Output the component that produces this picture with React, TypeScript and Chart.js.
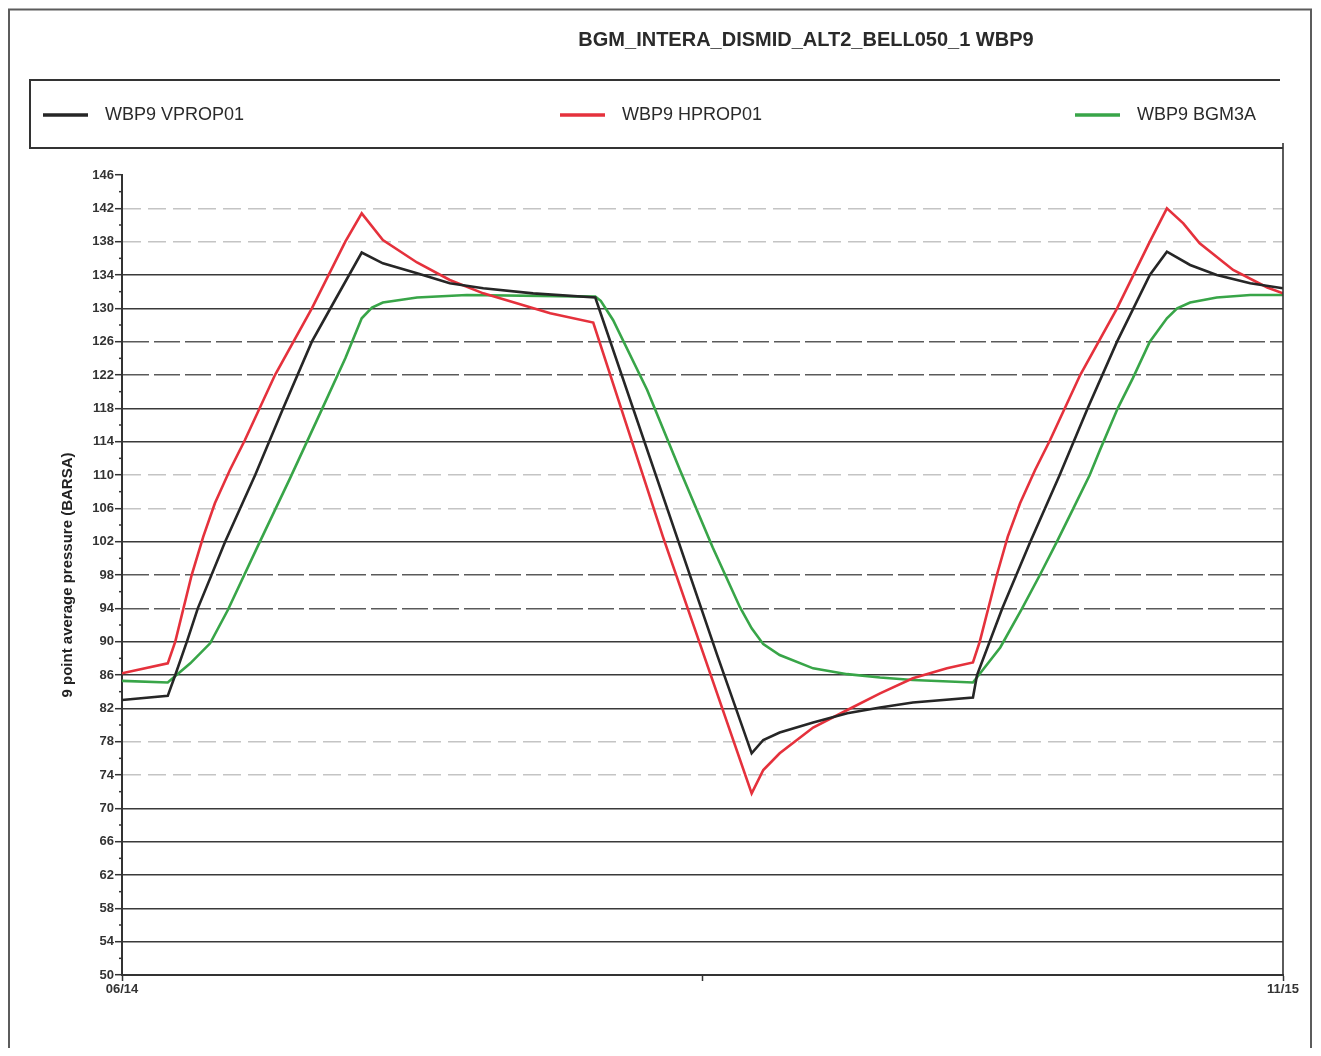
import React, { useEffect, useRef } from 'react';
import { Chart, registerables } from 'chart.js';

Chart.register(...registerables);

// ---- Text ----
const chartTitle = 'BGM_INTERA_DISMID_ALT2_BELL050_1 WBP9';
const yAxisTitle = '9 point average pressure (BARSA)';
const seriesNames = ['WBP9 VPROP01', 'WBP9 HPROP01', 'WBP9 BGM3A'];
const seriesColors = ['#262626', '#e5313c', '#38a548'];

// ---- Axes (x in months since 06/14) ----
const xMin = 0;
const xMax = 17;
const xTickValues = [0, 8.5, 17];
const xTickLabels: Record<string, string> = { '0': '06/14', '17': '11/15' };
const yMin = 50;
const yMax = 146;
const yLabelStep = 4;
const yMinorStep = 2;

// ---- Series: WBP9 VPROP01 ----
const vpropMonths = [0, 0.67, 0.78, 0.95, 1.11, 1.51, 1.95, 2.36, 2.78, 3.12, 3.51, 3.82, 4.32, 4.80, 5.29, 6.02, 6.93, 8.71, 9.22, 9.39, 9.63, 10.12, 10.62, 11.10, 11.58, 12.46, 12.52, 12.89, 13.30, 13.73, 14.14, 14.57, 15.05, 15.30, 15.64, 16.03, 16.52, 17];
const vpropValues = [83.0, 83.5, 86.0, 90.0, 94.0, 102.0, 110.0, 118.0, 126.0, 131.0, 136.7, 135.4, 134.2, 133.0, 132.4, 131.8, 131.3, 88.5, 76.6, 78.2, 79.1, 80.3, 81.4, 82.1, 82.7, 83.3, 86.0, 94.0, 102.0, 110.0, 118.0, 126.0, 134.0, 136.8, 135.2, 134.0, 133.0, 132.4];

// ---- Series: WBP9 HPROP01 ----
const hpropMonths = [0, 0.67, 0.78, 1.02, 1.19, 1.36, 1.58, 1.80, 2.24, 2.78, 3.27, 3.51, 3.82, 4.32, 4.80, 5.29, 5.78, 6.27, 6.90, 7.92, 9.22, 9.39, 9.63, 10.12, 10.62, 11.10, 11.58, 12.08, 12.46, 12.56, 12.81, 12.97, 13.15, 13.37, 13.59, 14.03, 14.57, 15.05, 15.30, 15.54, 15.78, 16.27, 16.77, 17];
const hpropValues = [86.2, 87.4, 90.0, 98.0, 102.6, 106.6, 110.6, 114.2, 122.0, 130.0, 138.0, 141.4, 138.2, 135.5, 133.4, 131.8, 130.6, 129.4, 128.3, 102.6, 71.8, 74.6, 76.6, 79.7, 81.8, 83.8, 85.6, 86.8, 87.5, 90.0, 98.0, 102.6, 106.6, 110.6, 114.2, 122.0, 130.0, 138.0, 142.0, 140.2, 137.8, 134.6, 132.5, 131.8];

// ---- Series: WBP9 BGM3A ----
const bgmMonths = [0, 0.67, 1.00, 1.29, 1.55, 1.99, 2.46, 2.90, 3.27, 3.51, 3.66, 3.82, 4.32, 5.05, 6.93, 7.01, 7.19, 7.69, 8.17, 8.65, 9.05, 9.22, 9.39, 9.63, 10.12, 10.62, 11.10, 11.58, 12.46, 12.86, 13.18, 13.44, 13.69, 13.93, 14.17, 14.32, 14.58, 14.80, 15.05, 15.30, 15.45, 15.64, 16.03, 16.52, 17];
const bgmValues = [85.3, 85.1, 87.4, 89.8, 93.8, 101.5, 109.6, 117.4, 124.0, 128.8, 130.1, 130.7, 131.3, 131.6, 131.4, 130.9, 128.6, 120.2, 110.6, 101.3, 94.1, 91.6, 89.7, 88.4, 86.8, 86.1, 85.7, 85.4, 85.1, 89.3, 94.0, 98.0, 102.0, 106.0, 110.0, 113.0, 118.0, 121.6, 126.0, 128.8, 130.0, 130.7, 131.3, 131.6, 131.6];

// Grid lines at these levels print faint / broken on the plotted sheet
const faintLevels = [74, 78, 106, 110, 138, 142];
const brokenLevels = [94, 98, 122, 126];

const FONT = '"Liberation Sans", Arial, Helvetica, sans-serif';

const isLabelled = (v: number) => (v - yMin) % yLabelStep === 0;

function gridColor(v: number | undefined): string {
  if (v === undefined || !isLabelled(v) || v === yMax) return 'rgba(0,0,0,0)';
  if (faintLevels.includes(v)) return '#c4c4c4';
  if (brokenLevels.includes(v)) return '#5a5a5a';
  return '#3a3a3a';
}

function gridDash(v: number | undefined): number[] {
  if (v === undefined) return [];
  if (faintLevels.includes(v)) return [18, 7];
  if (brokenLevels.includes(v)) return [26, 5];
  return [];
}

// Sheet furniture: outer frame, legend box, title, legend entries, minor ticks
const sheetPlugin = {
  id: 'sheet',
  afterDraw(chart: any) {
    const { ctx, chartArea, width, height } = chart;
    const yScale = chart.scales.y;
    ctx.save();

    // outer frame
    ctx.strokeStyle = '#5c5c5c';
    ctx.lineWidth = 2;
    ctx.beginPath();
    ctx.moveTo(1, height);
    ctx.lineTo(1, 1.5);
    ctx.lineTo(width - 2, 1.5);
    ctx.lineTo(width - 2, height);
    ctx.stroke();

    // legend box (open on the right)
    ctx.strokeStyle = '#333';
    ctx.lineWidth = 2;
    ctx.beginPath();
    ctx.moveTo(chartArea.right - 3, 72);
    ctx.lineTo(22, 72);
    ctx.lineTo(22, 140);
    ctx.lineTo(chartArea.right, 140);
    ctx.stroke();

    // right edge of the plot
    ctx.lineWidth = 1.6;
    ctx.beginPath();
    ctx.moveTo(chartArea.right, 135);
    ctx.lineTo(chartArea.right, chartArea.bottom);
    ctx.stroke();

    // minor ticks on the value axis
    ctx.strokeStyle = '#333';
    ctx.lineWidth = 1.5;
    for (let v = yMin + yMinorStep; v < yMax; v += yLabelStep) {
      const y = yScale.getPixelForValue(v);
      ctx.beginPath();
      ctx.moveTo(chartArea.left - 3, y);
      ctx.lineTo(chartArea.left, y);
      ctx.stroke();
    }

    // title
    ctx.fillStyle = '#2a2a2a';
    ctx.textBaseline = 'middle';
    ctx.textAlign = 'center';
    ctx.font = `bold 20px ${FONT}`;
    ctx.fillText(chartTitle, 798, 32);

    // legend entries
    const sampleX = [35, 552, 1067];
    ctx.textAlign = 'left';
    ctx.font = `18px ${FONT}`;
    chart.data.datasets.forEach((ds: any, i: number) => {
      const x = sampleX[i];
      ctx.strokeStyle = ds.borderColor;
      ctx.lineWidth = 3.5;
      ctx.beginPath();
      ctx.moveTo(x, 107);
      ctx.lineTo(x + 45, 107);
      ctx.stroke();
      ctx.fillStyle = '#2a2a2a';
      ctx.fillText(ds.label, x + 62, 107.5);
    });

    ctx.restore();
  },
};

function toPoints(xs: number[], ys: number[]) {
  return xs.map((x, i) => ({ x, y: ys[i] }));
}

export default function App() {
  const canvasRef = useRef<HTMLCanvasElement | null>(null);

  useEffect(() => {
    const canvas = canvasRef.current;
    if (!canvas) return;

    const seriesData = [
      toPoints(vpropMonths, vpropValues),
      toPoints(hpropMonths, hpropValues),
      toPoints(bgmMonths, bgmValues),
    ];

    const chart = new Chart(canvas, {
      type: 'line',
      data: {
        datasets: seriesData.map((data, i) => ({
          label: seriesNames[i],
          data,
          borderColor: seriesColors[i],
          backgroundColor: seriesColors[i],
          borderWidth: 2.6,
          pointRadius: 0,
          tension: 0,
          fill: false,
        })),
      },
      options: {
        animation: false,
        responsive: false,
        devicePixelRatio: 1,
        events: [],
        layout: { padding: { top: 167, right: 30, left: 0, bottom: 0 } },
        plugins: {
          legend: { display: false },
          title: { display: false },
          tooltip: { enabled: false },
        },
        scales: {
          x: {
            type: 'linear',
            min: xMin,
            max: xMax,
            afterBuildTicks: (s: any) => {
              s.ticks = xTickValues.map((value) => ({ value }));
            },
            afterFit: (s: any) => {
              s.height = 73;
            },
            grid: {
              drawOnChartArea: false,
              drawTicks: true,
              tickLength: 6,
              tickColor: '#333',
              tickWidth: 1.5,
            },
            border: { color: '#333', width: 2 },
            ticks: {
              autoSkip: false,
              maxRotation: 0,
              padding: 1,
              color: '#333',
              font: { family: FONT, size: 13, weight: 'bold' },
              callback: (v: any) => xTickLabels[String(v)] ?? '',
            },
          },
          y: {
            type: 'linear',
            min: yMin,
            max: yMax,
            afterBuildTicks: (s: any) => {
              const t: { value: number }[] = [];
              for (let v = yMin; v <= yMax; v += yMinorStep) t.push({ value: v });
              s.ticks = t;
            },
            afterFit: (s: any) => {
              s.width = 114;
            },
            grid: {
              drawOnChartArea: true,
              drawTicks: true,
              tickLength: 7,
              color: (c: any) => gridColor(c.tick?.value),
              lineWidth: 1.4,
              tickColor: (c: any) =>
                c.tick && isLabelled(c.tick.value) ? '#333' : 'rgba(0,0,0,0)',
              tickWidth: 1.5,
            },
            border: {
              color: '#333',
              width: 2,
              dash: (c: any) => gridDash(c.tick?.value),
            },
            ticks: {
              autoSkip: false,
              padding: 1,
              color: '#333',
              font: { family: FONT, size: 13, weight: 'bold' },
              callback: (v: any) => (isLabelled(Number(v)) ? String(v) : ''),
            },
            title: {
              display: true,
              text: yAxisTitle,
              color: '#222',
              font: { family: FONT, size: 15, weight: 'bold' },
              padding: { top: 51, bottom: 0 },
            },
          },
        },
      },
      plugins: [sheetPlugin],
    } as any);

    return () => chart.destroy();
  }, []);

  return (
    <div style={{ width: 1305, height: 1040 }}>
      <canvas ref={canvasRef} width={1305} height={1040} style={{ display: 'block' }} />
    </div>
  );
}
